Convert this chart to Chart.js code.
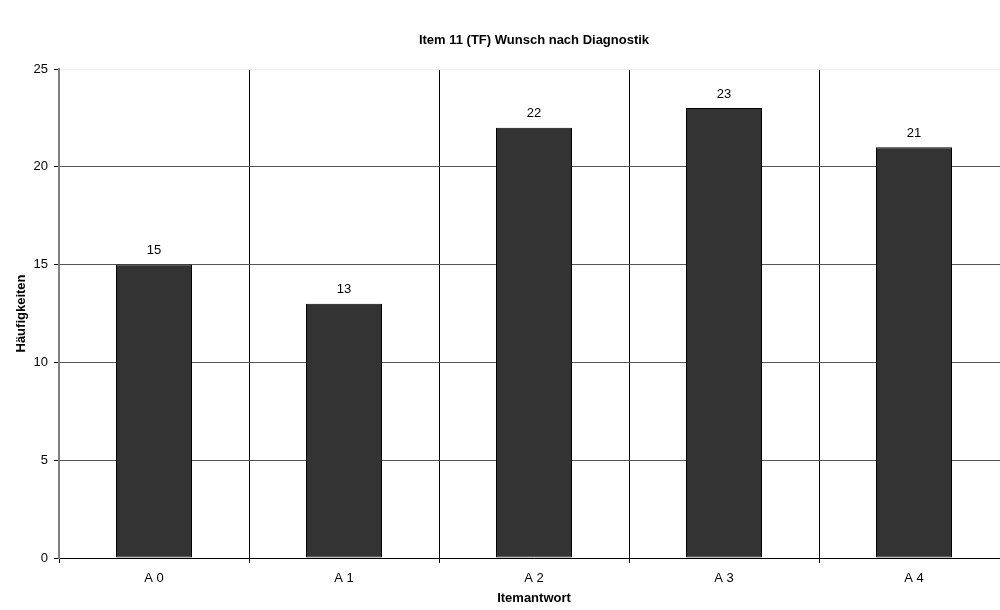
<!DOCTYPE html>
<html>
<head>
<meta charset="utf-8">
<script src="https://cdn.jsdelivr.net/npm/chart.js@4/dist/chart.umd.min.js"></script>
<style>
  html, body { margin: 0; padding: 0; background: #fff; overflow: hidden; }
  #wrap { width: 1010px; height: 610px; }
</style>
</head>
<body>
<div id="wrap"><canvas id="chart"></canvas></div>
<script>
const CATEGORIES = ['A 0', 'A 1', 'A 2', 'A 3', 'A 4'];
const COUNTS = [15, 13, 22, 23, 21];
const Y_TICKS = [0, 5, 10, 15, 20, 25];

const FONT = 'Arial, "Liberation Sans", sans-serif';

// value labels above each bar
const barLabels = {
    id: 'barLabels',
    afterDatasetsDraw(chart) {
        const ctx = chart.ctx;
        const meta = chart.getDatasetMeta(0);
        ctx.save();
        ctx.font = '13px ' + FONT;
        ctx.fillStyle = '#000';
        ctx.textAlign = 'center';
        ctx.textBaseline = 'middle';
        meta.data.forEach((bar, i) => {
            ctx.fillText(String(COUNTS[i]), bar.x, bar.y - 14);
        });
        ctx.restore();
    }
};

new Chart(document.getElementById('chart'), {
    type: 'bar',
    data: {
        labels: CATEGORIES,
        datasets: [{
            data: COUNTS,
            backgroundColor: '#333333',
            borderColor: '#000000',
            borderWidth: 1,
            borderSkipped: false,
            categoryPercentage: 0.4,
            barPercentage: 1
        }]
    },
    options: {
        responsive: true,
        maintainAspectRatio: false,
        animation: false,
        layout: { padding: { left: 9, right: 1, top: 0, bottom: 0 } },
        plugins: {
            legend: { display: false },
            tooltip: { enabled: false },
            title: {
                display: true,
                text: 'Item 11 (TF) Wunsch nach Diagnostik',
                fullSize: false,
                color: '#000',
                font: { family: FONT, size: 13, weight: 'bold' },
                padding: { top: 33, bottom: 20.4 }
            }
        },
        scales: {
            x: {
                grid: {
                    offset: true,
                    color: '#000',
                    lineWidth: 1,
                    tickLength: 5,
                    tickColor: '#000'
                },
                border: { color: '#000', width: 1 },
                ticks: {
                    color: '#000',
                    font: { family: FONT, size: 13 },
                    padding: 8
                },
                title: {
                    display: true,
                    text: 'Itemantwort',
                    color: '#000',
                    font: { family: FONT, size: 13, weight: 'bold', lineHeight: 1.2 }
                },
                afterFit(scale) { scale.height = 52; }
            },
            y: {
                min: 0,
                max: 25,
                afterBuildTicks(scale) {
                    scale.ticks = Y_TICKS.map(v => ({ value: v }));
                },
                grid: {
                    color: ctx => ctx.tick && ctx.tick.value === 25 ? '#eeeeee' : '#555555',
                    lineWidth: 1,
                    tickLength: 5,
                    tickColor: '#000'
                },
                border: { color: '#808080', width: 2 },
                ticks: {
                    color: '#000',
                    font: { family: FONT, size: 13 },
                    padding: 6
                },
                title: {
                    display: true,
                    text: 'Häufigkeiten',
                    color: '#000',
                    font: { family: FONT, size: 13, weight: 'bold', lineHeight: 1.25 }
                },
                afterFit(scale) { scale.width = 50; }
            }
        }
    },
    plugins: [barLabels]
});
</script>
</body>
</html>
